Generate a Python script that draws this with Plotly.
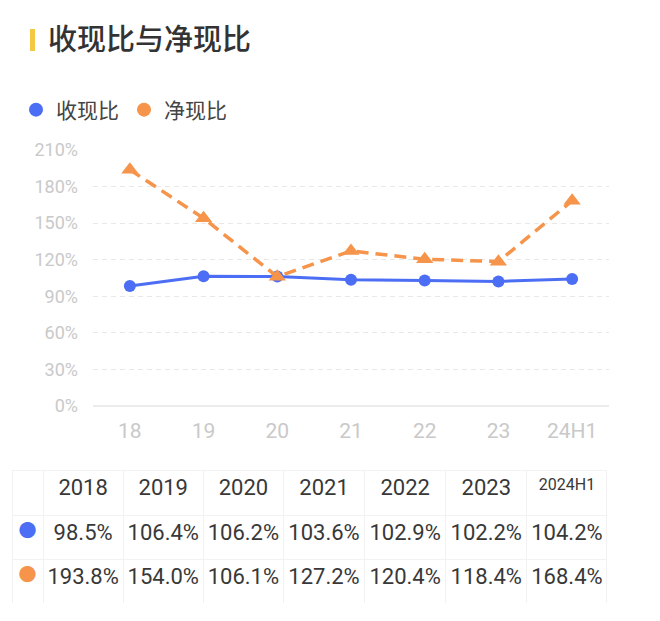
import plotly.graph_objects as go

# Daten
categories = ["18", "19", "20", "21", "22", "23", "24H1"]
years = ["2018", "2019", "2020", "2021", "2022", "2023", "2024H1"]
shou_xian = [98.5, 106.4, 106.2, 103.6, 102.9, 102.2, 104.2]
jing_xian = [193.8, 154.0, 106.1, 127.2, 120.4, 118.4, 168.4]
y_ticks = [0, 30, 60, 90, 120, 150, 180, 210]

BLUE = "#4B6EF5"
ORANGE = "#F5944A"
W, H = 660, 621
FONT = "Roboto, Noto Sans CJK SC, sans-serif"


# Pixel im Bild -> Paper-Koordinaten (Seite hat 8px Rand)
def px(x):
    return (x - 8) / W


def py(y):
    return 1 - (y - 8) / H


fig = go.Figure()

# Linien
fig.add_trace(go.Scatter(
    x=categories, y=shou_xian, mode="lines+markers",
    line=dict(color=BLUE, width=3),
    marker=dict(color=BLUE, size=12, symbol="circle"),
    showlegend=False, cliponaxis=False,
))
fig.add_trace(go.Scatter(
    x=categories, y=jing_xian, mode="lines+markers",
    line=dict(color=ORANGE, width=3.5, dash="12px,7px"),
    marker=dict(color=ORANGE, size=15, symbol="triangle-up"),
    showlegend=False, cliponaxis=False,
))

# Legende nur mit Kreisen
for name, col in [("收现比", BLUE), ("净现比", ORANGE)]:
    fig.add_trace(go.Scatter(
        x=[None], y=[None], mode="markers", name=name,
        marker=dict(color=col, size=14, symbol="circle"),
    ))

# Tabelle (Text sitzt in plotly oben in der Zelle, daher etwas nach unten)
cell_cols = [["●", "●"]] + [[f"{a:.1f}%", f"{b:.1f}%"] for a, b in zip(shou_xian, jing_xian)]
cell_colors = [[BLUE, ORANGE]] + [["#383838", "#383838"]] * len(years)
fig.add_trace(go.Table(
    domain=dict(x=[px(12), px(607)], y=[py(603), py(470)]),
    columnwidth=[31, 80, 80, 80, 81, 81, 81, 80],
    header=dict(
        values=[""] + years,
        fill_color="white", line_color="#f2f2f2",
        align="center", height=45,
        font=dict(family=FONT, size=[22] * 7 + [16], color="#383838"),
    ),
    cells=dict(
        values=cell_cols,
        fill_color="white", line_color="#f2f2f2",
        align="center", height=44,
        font=dict(family=FONT, size=[18] + [22] * 7, color=cell_colors),
    ),
))

# Titel mit gelbem Balken
fig.add_shape(type="rect", xref="paper", yref="paper",
              x0=px(30), x1=px(35), y0=py(51), y1=py(29),
              fillcolor="#F5C842", line_width=0)
fig.add_annotation(text="收现比与净现比", xref="paper", yref="paper",
                   x=px(46), y=py(40), xanchor="left", yanchor="middle",
                   showarrow=False,
                   font=dict(family=FONT, size=29, color="#333333", weight=500))

fig.update_layout(
    width=W, height=H,
    margin=dict(l=0, r=0, t=0, b=0, autoexpand=False),
    paper_bgcolor="white", plot_bgcolor="white",
    font=dict(family=FONT),
    legend=dict(orientation="h", x=px(16), y=py(110), xanchor="left", yanchor="middle",
                font=dict(size=21, color="#444444"), itemwidth=30,
                bgcolor="rgba(0,0,0,0)"),
    xaxis=dict(domain=[px(93), px(609)], type="category", range=[-0.5, 6.5],
               showgrid=False, showline=False, zeroline=False, ticks="",
               tickfont=dict(size=21, color="#c9c9c9"), ticklabelstandoff=10),
    yaxis=dict(domain=[py(406), py(150)], range=[0, 210],
               tickmode="array", tickvals=y_ticks, ticktext=[f"{v}%" for v in y_ticks],
               showgrid=True, gridcolor="#e8e8e8", griddash="5px,4px", gridwidth=1,
               zeroline=True, zerolinecolor="#ececec", zerolinewidth=1.5,
               tickfont=dict(size=18, color="#c9c9c9"), ticklabelstandoff=14),
)

fig.write_html("out.html")
